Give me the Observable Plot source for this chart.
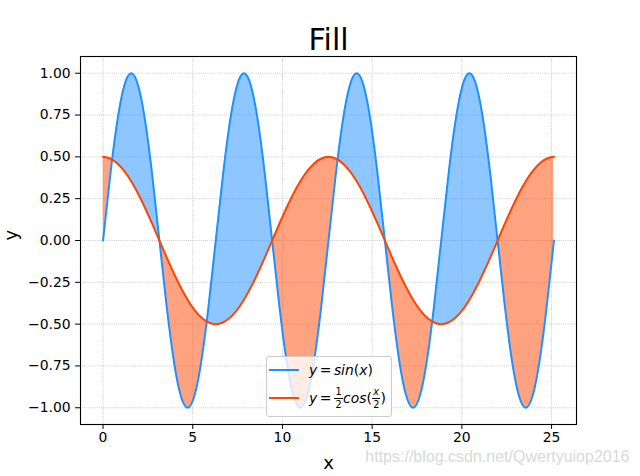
<!DOCTYPE html>
<html>
<head>
<meta charset="utf-8">
<script src="https://cdn.jsdelivr.net/npm/d3@7"></script>
<script src="https://cdn.jsdelivr.net/npm/@observablehq/plot@0.6"></script>
<style>
  html, body { margin: 0; padding: 0; background: white; }
  #wrap { position: relative; width: 640px; height: 476px; font-family: "DejaVu Sans", sans-serif; }
  #legend { position: absolute; left: 266px; top: 356px; width: 124px; height: 59px;
    border: 1px solid #cccccc; border-radius: 3px; background: rgba(255,255,255,0.8);
    font-family: "DejaVu Sans", sans-serif; font-size: 13.9px; color: black; }
  .row { position: absolute; left: 2px; display: flex; align-items: center; white-space: nowrap; }
  .sw { display: inline-block; width: 30px; height: 2px; margin-right: 10px; }
  .it { font-style: italic; }
  .eq { margin: 0 2.5px; }
  .frac { display: inline-flex; flex-direction: column; align-items: center; font-size: 9.7px; line-height: 1; vertical-align: middle; margin: 0 0.5px; font-style: normal; }
  .frac .num { padding: 0 1px 1px 1px; border-bottom: 0.8px solid black; }
  .frac .den { padding-top: 1px; }
</style>
</head>
<body>
<div id="wrap"></div>
<script>
// sampled x (step pi/8, 0 .. 8pi)
const xs = [0, 0.3927, 0.7854, 1.1781, 1.5708, 1.9635, 2.3562, 2.7489, 3.1416, 3.5343, 3.927, 4.3197,
  4.7124, 5.1051, 5.4978, 5.8905, 6.2832, 6.6759, 7.0686, 7.4613, 7.854, 8.2467, 8.6394, 9.0321,
  9.4248, 9.8175, 10.2102, 10.6029, 10.9956, 11.3883, 11.781, 12.1737, 12.5664, 12.9591, 13.3518,
  13.7445, 14.1372, 14.5299, 14.9226, 15.3153, 15.708, 16.1007, 16.4934, 16.8861, 17.2788, 17.6715,
  18.0642, 18.4569, 18.8496, 19.2423, 19.635, 20.0277, 20.4204, 20.8131, 21.2058, 21.5985, 21.9912,
  22.3839, 22.7766, 23.1693, 23.562, 23.9547, 24.3474, 24.7401, 25.1327];
// y = sin(x)
const sinY = [0, 0.3827, 0.7071, 0.9239, 1, 0.9239, 0.7071, 0.3827, 0, -0.3827, -0.7071, -0.9239, -1, -0.9239, -0.7071, -0.3827,
  0, 0.3827, 0.7071, 0.9239, 1, 0.9239, 0.7071, 0.3827, 0, -0.3827, -0.7071, -0.9239, -1, -0.9239, -0.7071, -0.3827,
  0, 0.3827, 0.7071, 0.9239, 1, 0.9239, 0.7071, 0.3827, 0, -0.3827, -0.7071, -0.9239, -1, -0.9239, -0.7071, -0.3827,
  0, 0.3827, 0.7071, 0.9239, 1, 0.9239, 0.7071, 0.3827, 0, -0.3827, -0.7071, -0.9239, -1, -0.9239, -0.7071, -0.3827,
  0];
// y = 1/2 cos(x/2)
const cosY = [0.5, 0.4904, 0.4619, 0.4157, 0.3536, 0.2778, 0.1913, 0.0975, 0, -0.0975, -0.1913, -0.2778, -0.3536, -0.4157, -0.4619, -0.4904,
  -0.5, -0.4904, -0.4619, -0.4157, -0.3536, -0.2778, -0.1913, -0.0975, 0, 0.0975, 0.1913, 0.2778, 0.3536, 0.4157, 0.4619, 0.4904,
  0.5, 0.4904, 0.4619, 0.4157, 0.3536, 0.2778, 0.1913, 0.0975, 0, -0.0975, -0.1913, -0.2778, -0.3536, -0.4157, -0.4619, -0.4904,
  -0.5, -0.4904, -0.4619, -0.4157, -0.3536, -0.2778, -0.1913, -0.0975, 0, 0.0975, 0.1913, 0.2778, 0.3536, 0.4157, 0.4619, 0.4904,
  0.5];
const xTicks = [0, 5, 10, 15, 20, 25];
const yTicks = [-1, -0.75, -0.5, -0.25, 0, 0.25, 0.5, 0.75, 1];
const titleText = "Fill";
const xLabel = "x";
const yLabel = "y";
const watermark = "https://blog.csdn.net/Qwertyuiop2016";

const data = xs.map((x, i) => ({x, s: sinY[i], c: cosY[i]}));
const blue = "#1e90ff", orange = "#ff4500";
const curve = "natural";
const gridStyle = {stroke: "#b0b0b0", strokeOpacity: 1, strokeWidth: 0.8, strokeDasharray: "0.8,1.32"};

let fillMarks;
if (Plot.differenceY) {
  fillMarks = [Plot.differenceY(data, {x: "x", y1: "c", y2: "s", positiveFill: blue, negativeFill: orange,
    fillOpacity: 0.5, stroke: "none", curve})];
} else {
  fillMarks = [
    Plot.areaY(data, {x: "x", y1: "c", y2: d => Math.max(d.s, d.c), fill: blue, fillOpacity: 0.5, curve}),
    Plot.areaY(data, {x: "x", y1: "c", y2: d => Math.min(d.s, d.c), fill: orange, fillOpacity: 0.5, curve})
  ];
}

const chart = Plot.plot({
  width: 640, height: 476,
  marginLeft: 80, marginRight: 64, marginTop: 56, marginBottom: 52,
  style: {fontFamily: "DejaVu Sans", fontSize: "13.9px", color: "black", background: "white", overflow: "visible"},
  x: {domain: [-1.2566, 26.3894]},
  y: {domain: [-1.1, 1.1]},
  marks: [
    Plot.gridX(xTicks, gridStyle),
    Plot.gridY(yTicks, gridStyle),
    ...fillMarks,
    Plot.line(data, {x: "x", y: "s", stroke: blue, strokeWidth: 2, curve}),
    Plot.line(data, {x: "x", y: "c", stroke: orange, strokeWidth: 2, curve}),
    Plot.frame({stroke: "black", strokeOpacity: 1, strokeWidth: 1.1}),
    Plot.axisX(xTicks, {tickSize: 4.9, tickPadding: 3, fontSize: 13.9, label: null, tickFormat: d3.format("d")}),
    Plot.axisY(yTicks, {tickSize: 4.9, tickPadding: 4.9, fontSize: 13.9, label: null, tickFormat: d3.format(".2f")}),
    Plot.text([titleText], {text: d => d, frameAnchor: "top", lineAnchor: "middle", dy: -16.3, fontSize: 30, fill: "black"}),
    Plot.text([xLabel], {text: d => d, frameAnchor: "bottom", lineAnchor: "middle", dy: 39, fontSize: 18, fill: "black"}),
    Plot.text([yLabel], {text: d => d, frameAnchor: "left", lineAnchor: "middle", dx: -69, rotate: -90, fontSize: 18, fill: "black"}),
    Plot.text([watermark], {text: d => d, frameAnchor: "bottom-right", lineAnchor: "middle", textAnchor: "end", dx: 53, dy: 32.6,
      fontSize: 16, fontFamily: "Liberation Sans", fill: "#d9d9d9"})
  ]
});

const wrap = document.getElementById("wrap");
wrap.appendChild(chart);

const legend = document.createElement("div");
legend.id = "legend";
legend.innerHTML = `
  <div class="row" style="top:4px;height:18px">
    <span class="sw" style="background:${blue}"></span>
    <span><span class="it">y</span><span class="eq">=</span><span class="it">sin</span>(<span class="it">x</span>)</span>
  </div>
  <div class="row" style="top:30px;height:22px">
    <span class="sw" style="background:${orange}"></span>
    <span style="display:inline-flex;align-items:center"><span class="it">y</span><span class="eq">=</span><span class="frac"><span class="num">1</span><span class="den">2</span></span><span class="it">cos</span>(<span class="frac"><span class="num" style="font-style:italic">x</span><span class="den">2</span></span>)</span>
  </div>`;
wrap.appendChild(legend);
</script>
</body>
</html>
